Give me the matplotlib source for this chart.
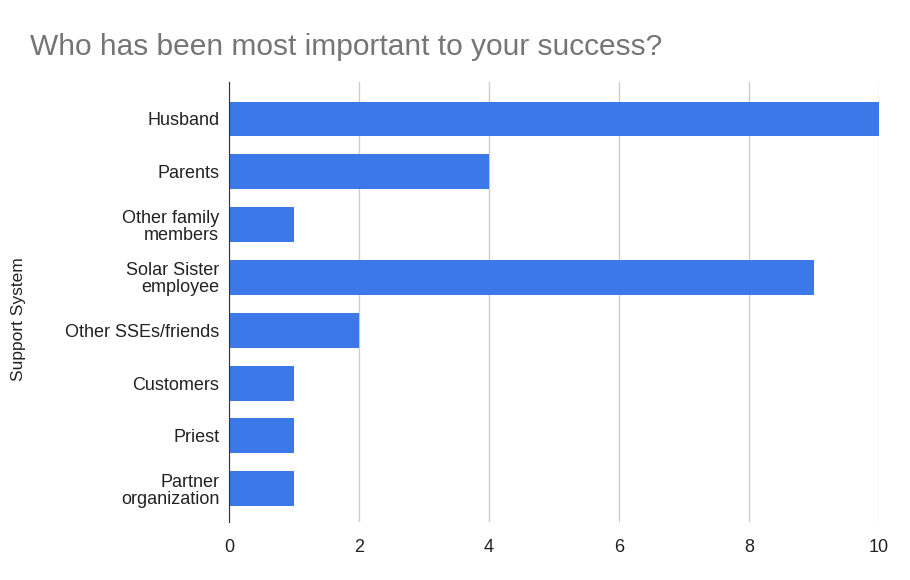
import matplotlib.pyplot as plt

plt.rcParams['font.family'] = ['Liberation Sans', 'DejaVu Sans']

# Datos
categorias = ['Husband', 'Parents', 'Other family\nmembers', 'Solar Sister\nemployee',
              'Other SSEs/friends', 'Customers', 'Priest', 'Partner\norganization']
valores = [10, 4, 1, 9, 2, 1, 1, 1]
ticks_x = [0, 2, 4, 6, 8, 10]

fig = plt.figure(figsize=(9.1, 5.8), dpi=100)
ax = fig.add_axes([229 / 910, 58 / 580, 650 / 910, 440 / 580])

pos = list(range(len(categorias)))
ax.barh(pos, valores, height=0.66, color='#3c78e8', zorder=3)

ax.set_xlim(0, 10)
ax.set_ylim(7.63, -0.7)
ax.set_yticks(pos)
ax.set_yticklabels(categorias, fontsize=13, color='#222222', linespacing=1.0)
ax.set_xticks(ticks_x)
ax.set_xticklabels([str(t) for t in ticks_x], fontsize=13, color='#222222')
ax.tick_params(axis='y', length=0, pad=7)
ax.tick_params(axis='x', length=0, pad=12)

ax.grid(axis='x', color='#cccccc', linewidth=1, zorder=0)
for lado in ['top', 'right', 'bottom']:
    ax.spines[lado].set_visible(False)
ax.spines['left'].set_color('#333333')
ax.spines['left'].set_zorder(4)

ax.set_ylabel('Support System', fontsize=12.5, color='#222222')
ax.yaxis.set_label_coords(-203 / 650, 0.46)

fig.text(30 / 910, 1 - 47 / 580, 'Who has been most important to your success?',
         fontsize=21.5, color='#757575', va='center', ha='left')

fig.savefig('out.png', dpi=100)
